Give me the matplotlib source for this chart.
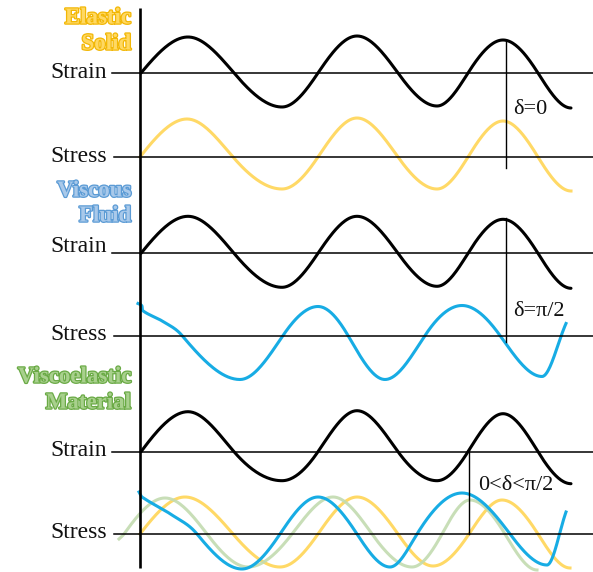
import numpy as np
import matplotlib
matplotlib.use("Agg")
import matplotlib.pyplot as plt
import matplotlib.patheffects as pe

# ---- key points of each wave: time (x) and displacement from its baseline ----
strain_t = [141, 188, 234, 282, 318, 357, 398, 437, 468, 503, 538, 571]
strain_v_elastic = [0, 36, 0, -34, 0, 37, 0, -33, 0, 33, 0, -35]
strain_v_viscous = [0, 37, 0, -34, 0, 37, 0, -33, 0, 34, 0, -35]
strain_v_visco = [0, 40, 0, -29, 0, 41, 0, -29, 0, 38, 0, -32]

elastic_stress_t = [140, 187, 233, 282, 318, 357, 398, 437, 468, 503, 538, 571]
elastic_stress_v = [0, 38, 0, -32, 0, 39, 0, -32, 0, 36, 0, -34]

viscous_stress_t = [138, 142, 142.5, 163, 182, 240, 283, 318, 348, 385, 425, 462, 500, 542, 566]
viscous_stress_v = [32, 29.5, 25, 14, 0, -44, 0, 29, 0, -44, 0, 30, 0, -41, 12]

ve_elastic_t = [140, 185, 233, 280, 318, 357, 398, 433, 469, 502, 538, 570]
ve_elastic_v = [0, 37, 0, -33, 0, 37, 0, -32, 0, 34, 0, -34]

ve_mixed_t = [119, 124, 165, 207, 248, 292, 333, 372, 412, 442, 470, 505, 537]
ve_mixed_v = [-5, 0, 36, 0, -33, 0, 37, 0, -33, 0, 34, 0, -36]

ve_viscous_t = [139, 142, 172, 197, 242, 280, 318, 357, 390, 417, 462, 510, 547, 566]
ve_viscous_v = [42, 37, 19, 0, -35, 0, 37, 0, -33, 0, 41, 0, -31, 22]

# ---- panel layout ----
strain_base = [73, 253.3, 451.7]
stress_base = [157, 335.5, 534]
strain_label_y = [73, 246, 450]
stress_label_y = [157, 334, 533]
titles = [("Elastic", "Solid"), ("Viscous", "Fluid"), ("Viscoelastic", "Material")]
title_y = [(18, 44), (191, 216), (377, 403)]
title_fill = ["#FFD862", "#A9C9EA", "#A8D08D"]
title_edge = ["#F2B705", "#5B9BD5", "#6AAA45"]

delta_labels = ["δ=0", "δ=π/2", "0<δ<π/2"]
delta_x = [506, 506, 469]
delta_y0 = [40, 218, 449]
delta_y1 = [168, 342, 534]
delta_text_xy = [(513, 110), (513, 312), (478, 485)]

BLACK = "#000000"
YELLOW = "#FFD966"
BLUE = "#17ACE4"
GREEN = "#C2DBB0"


def wave(t, v, n=40):
    """Smooth curve through key points using cubic Hermite segments."""
    t = np.asarray(t, float)
    v = np.asarray(v, float)
    k = len(t)
    vmax = np.abs(v).max()
    m = np.zeros(k)
    for i in range(k):
        if 0 < i < k - 1:
            if (v[i] - v[i - 1]) * (v[i + 1] - v[i]) < 0:
                m[i] = 0.0
            else:
                f = np.pi / 2 if v[i] == 0 else 1.0
                m[i] = f * (v[i + 1] - v[i - 1]) / (t[i + 1] - t[i - 1])
        else:
            j0, j1 = (0, 1) if i == 0 else (k - 2, k - 1)
            if abs(v[i]) >= 0.7 * vmax and i == k - 1:
                m[i] = 0.0  # curve ends on a crest / trough
            else:
                f = np.pi / 2 if v[i] == 0 else 1.0
                m[i] = f * (v[j1] - v[j0]) / (t[j1] - t[j0])
    xs, ys = [], []
    for i in range(k - 1):
        h = t[i + 1] - t[i]
        s = np.linspace(0, 1, n)
        h00 = 2 * s**3 - 3 * s**2 + 1
        h10 = s**3 - 2 * s**2 + s
        h01 = -2 * s**3 + 3 * s**2
        h11 = s**3 - s**2
        y = h00 * v[i] + h10 * h * m[i] + h01 * v[i + 1] + h11 * h * m[i + 1]
        xs.append(t[i] + s * h)
        ys.append(y)
    return np.concatenate(xs), np.concatenate(ys)


fig = plt.figure(figsize=(5.93, 5.72), dpi=100)
ax = fig.add_axes([0, 0, 1, 1])
ax.set_xlim(0, 593)
ax.set_ylim(572, 0)
ax.axis("off")

LW_CURVE = 2.2
LW_BASE = 1.1
label_font = dict(family="Liberation Serif", size=17, color="#111111")
delta_font = dict(family="Liberation Serif", size=16, color="#111111")
title_font = dict(family="Liberation Serif", size=16.5, weight="bold")

# vertical time axis
ax.plot([140, 140], [8, 568], color=BLACK, lw=1.9, solid_capstyle="butt", zorder=5)

strain_sets = [strain_v_elastic, strain_v_viscous, strain_v_visco]

for p in range(3):
    sb, tb = strain_base[p], stress_base[p]
    # baselines
    ax.plot([112, 593], [sb, sb], color=BLACK, lw=LW_BASE, zorder=4)
    ax.plot([114, 593], [tb, tb], color=BLACK, lw=LW_BASE, zorder=4)

    # strain (black)
    x, y = wave(strain_t, strain_sets[p])
    ax.plot(x, sb - y, color=BLACK, lw=LW_CURVE, zorder=6, solid_capstyle="round")

    # axis labels
    ax.text(107, strain_label_y[p], "Strain", ha="right", va="center", **label_font)
    ax.text(107, stress_label_y[p], "Stress", ha="right", va="center", **label_font)

    # material titles
    for line, yy in zip(titles[p], title_y[p]):
        ax.text(131, yy, line, ha="right", va="center", color=title_fill[p],
                path_effects=[pe.Stroke(linewidth=1.8, foreground=title_edge[p]), pe.Normal()],
                **title_font)

    # phase-lag marker
    ax.plot([delta_x[p], delta_x[p]], [delta_y0[p], delta_y1[p]], color=BLACK, lw=1.0, zorder=7)
    ax.text(delta_text_xy[p][0], delta_text_xy[p][1], delta_labels[p],
            ha="left", va="center", **delta_font)

# elastic stress
x, y = wave(elastic_stress_t, elastic_stress_v)
ax.plot(x, stress_base[0] - y, color=YELLOW, lw=LW_CURVE, zorder=3)

# viscous stress
x, y = wave(viscous_stress_t, viscous_stress_v)
ax.plot(x, stress_base[1] - y, color=BLUE, lw=LW_CURVE, zorder=3)

# viscoelastic stress: elastic, viscoelastic and viscous responses
x, y = wave(ve_elastic_t, ve_elastic_v)
ax.plot(x, stress_base[2] - y, color=YELLOW, lw=LW_CURVE, zorder=2)
x, y = wave(ve_mixed_t, ve_mixed_v)
ax.plot(x, stress_base[2] - y, color=GREEN, lw=LW_CURVE, alpha=0.9, zorder=2.5)
x, y = wave(ve_viscous_t, ve_viscous_v)
ax.plot(x, stress_base[2] - y, color=BLUE, lw=LW_CURVE, zorder=3)

fig.savefig("out.png", dpi=100)
